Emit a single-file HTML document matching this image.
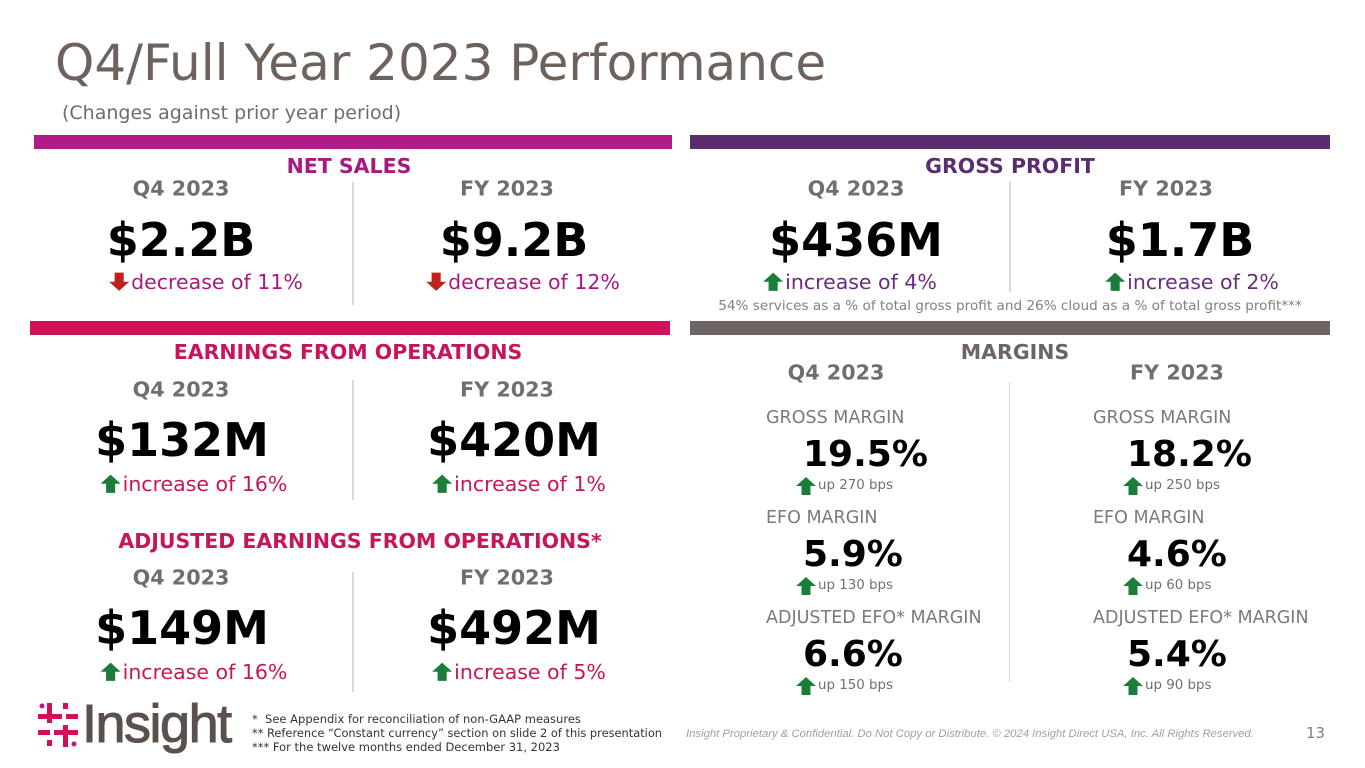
<!DOCTYPE html>
<html><head><meta charset="utf-8">
<style>
*{margin:0;padding:0;box-sizing:border-box}
body{width:1365px;height:768px;background:#fff;position:relative;overflow:hidden;font-family:"DejaVu Sans","Liberation Sans",sans-serif}
.a{position:absolute;white-space:nowrap;line-height:1}
.c{position:absolute;white-space:nowrap;line-height:1;transform:translate(-50%,-50%)}
.bar{position:absolute;height:14px}
.h{font-weight:bold;font-size:20.5px}
.p{font-weight:bold;font-size:20.7px;color:#6f6f6f}
.v{font-weight:bold;font-size:46px;color:#000}
.ch{font-size:20.5px;display:flex;align-items:center}
.ch svg{margin-right:2px}
.div{position:absolute;width:2px;background:#d9d9d9}
.ml{font-size:17.5px;color:#7a7a7a}
.mv{font-weight:bold;font-size:36px;color:#000}
.mu{font-size:13.4px;color:#707070;display:flex;align-items:center}
.mu svg{margin-right:2px}
</style></head><body>
<div class="a" style="left:55px;top:38px;font-size:50px;color:#6d625c">Q4/Full Year 2023 Performance</div>
<div class="a" style="left:62px;top:104px;font-size:19px;color:#6d6d6d">(Changes against prior year period)</div>

<div class="bar" style="left:34px;top:135px;width:638px;background:#b01c87"></div>
<div class="bar" style="left:690px;top:135px;width:640px;background:#5c2d6e"></div>
<div class="bar" style="left:30px;top:321px;width:640px;background:#d1105a"></div>
<div class="bar" style="left:690px;top:321px;width:640px;background:#6e6464"></div>

<!-- NET SALES -->
<div class="c h" style="left:349px;top:166px;color:#a8187f">NET SALES</div>
<div class="c p" style="left:181px;top:189px">Q4 2023</div>
<div class="c p" style="left:507px;top:189px">FY 2023</div>
<div class="div" style="left:352px;top:182px;height:123px"></div>
<div class="c v" style="left:181px;top:240px">$2.2B</div>
<div class="c v" style="left:514px;top:240px">$9.2B</div>
<div class="c ch" style="left:206px;top:282px;color:#a8187f"><svg width="20" height="20" viewBox="0 0 22 20"><polygon points="6,0 16,0 16,10 22,10 11,20 0,10 6,10" fill="#c0201e"/></svg>decrease of 11%</div>
<div class="c ch" style="left:523px;top:282px;color:#a8187f"><svg width="20" height="20" viewBox="0 0 22 20"><polygon points="6,0 16,0 16,10 22,10 11,20 0,10 6,10" fill="#c0201e"/></svg>decrease of 12%</div>

<!-- GROSS PROFIT -->
<div class="c h" style="left:1010px;top:166px;color:#5c2d6e">GROSS PROFIT</div>
<div class="c p" style="left:856px;top:189px">Q4 2023</div>
<div class="c p" style="left:1166px;top:189px">FY 2023</div>
<div class="div" style="left:1009px;top:182px;height:110px"></div>
<div class="c v" style="left:856px;top:240px">$436M</div>
<div class="c v" style="left:1180px;top:240px">$1.7B</div>
<div class="c ch" style="left:850px;top:282px;color:#6b2c7e"><svg width="20" height="20" viewBox="0 0 22 20"><polygon points="11,0 22,10 16,10 16,20 6,20 6,10 0,10" fill="#1a7e3a"/></svg>increase of 4%</div>
<div class="c ch" style="left:1192px;top:282px;color:#6b2c7e"><svg width="20" height="20" viewBox="0 0 22 20"><polygon points="11,0 22,10 16,10 16,20 6,20 6,10 0,10" fill="#1a7e3a"/></svg>increase of 2%</div>
<div class="c" style="left:1010px;top:307px;font-size:13.6px;color:#808080">54% services as a % of total gross profit and 26% cloud as a % of total gross profit***</div>

<!-- EARNINGS -->
<div class="c h" style="left:348px;top:352px;color:#c8155a">EARNINGS FROM OPERATIONS</div>
<div class="c p" style="left:181px;top:390px">Q4 2023</div>
<div class="c p" style="left:507px;top:390px">FY 2023</div>
<div class="div" style="left:352px;top:380px;height:120px"></div>
<div class="c v" style="left:182px;top:440px">$132M</div>
<div class="c v" style="left:514px;top:440px">$420M</div>
<div class="c ch" style="left:194px;top:484px;color:#c8155a"><svg width="20" height="20" viewBox="0 0 22 20"><polygon points="11,0 22,10 16,10 16,20 6,20 6,10 0,10" fill="#1a7e3a"/></svg>increase of 16%</div>
<div class="c ch" style="left:519px;top:484px;color:#c8155a"><svg width="20" height="20" viewBox="0 0 22 20"><polygon points="11,0 22,10 16,10 16,20 6,20 6,10 0,10" fill="#1a7e3a"/></svg>increase of 1%</div>

<div class="c h" style="left:360px;top:541px;color:#c8155a">ADJUSTED EARNINGS FROM OPERATIONS*</div>
<div class="c p" style="left:181px;top:578px">Q4 2023</div>
<div class="c p" style="left:507px;top:578px">FY 2023</div>
<div class="div" style="left:352px;top:572px;height:120px"></div>
<div class="c v" style="left:182px;top:628px">$149M</div>
<div class="c v" style="left:514px;top:628px">$492M</div>
<div class="c ch" style="left:194px;top:672px;color:#c8155a"><svg width="20" height="20" viewBox="0 0 22 20"><polygon points="11,0 22,10 16,10 16,20 6,20 6,10 0,10" fill="#1a7e3a"/></svg>increase of 16%</div>
<div class="c ch" style="left:519px;top:672px;color:#c8155a"><svg width="20" height="20" viewBox="0 0 22 20"><polygon points="11,0 22,10 16,10 16,20 6,20 6,10 0,10" fill="#1a7e3a"/></svg>increase of 5%</div>

<!-- MARGINS -->
<div class="c h" style="left:1015px;top:352px;color:#6e6464">MARGINS</div>
<div class="c p" style="left:836px;top:373px">Q4 2023</div>
<div class="c p" style="left:1177px;top:373px">FY 2023</div>
<div class="div" style="left:1009px;top:382px;height:300px;width:1px"></div>

<div class="a ml" style="left:766px;top:410px">GROSS MARGIN</div>
<div class="a mv" style="left:803px;top:437px">19.5%</div>
<div class="a mu" style="left:796px;top:477px"><svg width="20" height="18" viewBox="0 0 22 20"><polygon points="11,0 22,10 16,10 16,20 6,20 6,10 0,10" fill="#1a7e3a"/></svg>up 270 bps</div>
<div class="a ml" style="left:766px;top:510px">EFO MARGIN</div>
<div class="a mv" style="left:803px;top:537px">5.9%</div>
<div class="a mu" style="left:796px;top:577px"><svg width="20" height="18" viewBox="0 0 22 20"><polygon points="11,0 22,10 16,10 16,20 6,20 6,10 0,10" fill="#1a7e3a"/></svg>up 130 bps</div>
<div class="a ml" style="left:766px;top:610px">ADJUSTED EFO* MARGIN</div>
<div class="a mv" style="left:803px;top:637px">6.6%</div>
<div class="a mu" style="left:796px;top:677px"><svg width="20" height="18" viewBox="0 0 22 20"><polygon points="11,0 22,10 16,10 16,20 6,20 6,10 0,10" fill="#1a7e3a"/></svg>up 150 bps</div>

<div class="a ml" style="left:1093px;top:410px">GROSS MARGIN</div>
<div class="a mv" style="left:1127px;top:437px">18.2%</div>
<div class="a mu" style="left:1123px;top:477px"><svg width="20" height="18" viewBox="0 0 22 20"><polygon points="11,0 22,10 16,10 16,20 6,20 6,10 0,10" fill="#1a7e3a"/></svg>up 250 bps</div>
<div class="a ml" style="left:1093px;top:510px">EFO MARGIN</div>
<div class="a mv" style="left:1127px;top:537px">4.6%</div>
<div class="a mu" style="left:1123px;top:577px"><svg width="20" height="18" viewBox="0 0 22 20"><polygon points="11,0 22,10 16,10 16,20 6,20 6,10 0,10" fill="#1a7e3a"/></svg>up 60 bps</div>
<div class="a ml" style="left:1093px;top:610px">ADJUSTED EFO* MARGIN</div>
<div class="a mv" style="left:1127px;top:637px">5.4%</div>
<div class="a mu" style="left:1123px;top:677px"><svg width="20" height="18" viewBox="0 0 22 20"><polygon points="11,0 22,10 16,10 16,20 6,20 6,10 0,10" fill="#1a7e3a"/></svg>up 90 bps</div>

<!-- FOOTER -->
<svg class="a" style="left:38px;top:703px" width="40" height="44" viewBox="0 0 40 44">
<rect x="9" y="0" width="5" height="20" fill="#d1105a"/><rect x="25" y="0" width="5" height="6" fill="#d1105a"/>
<rect x="0" y="11" width="24" height="5" fill="#d1105a"/><rect x="28" y="11" width="12" height="5" fill="#d1105a"/>
<rect x="0" y="27" width="12" height="5" fill="#d1105a"/><rect x="16" y="27" width="24" height="5" fill="#d1105a"/>
<rect x="25" y="22" width="5" height="22" fill="#d1105a"/><rect x="9" y="37" width="5" height="6" fill="#d1105a"/>
<circle cx="4" cy="3" r="2.5" fill="#b01c87"/><circle cx="36" cy="41" r="2.5" fill="#b01c87"/>
</svg>
<div class="a" style="left:82px;top:697px;font-family:'Liberation Sans',sans-serif;font-size:54px;color:#5a514c;letter-spacing:-1.5px;-webkit-text-stroke:1px #5a514c">Insight</div>
<div class="a" style="left:252px;top:714px;font-size:11.5px;color:#333">*&nbsp; See Appendix for reconciliation of non-GAAP measures</div>
<div class="a" style="left:252px;top:728px;font-size:11.4px;color:#333">** Reference “Constant currency” section on slide 2 of this presentation</div>
<div class="a" style="left:252px;top:742px;font-size:11.5px;color:#333">*** For the twelve months ended December 31, 2023</div>
<div class="a" style="left:686px;top:729px;font-family:'Liberation Sans',sans-serif;font-style:italic;font-size:11.3px;color:#a0a0a0">Insight Proprietary &amp; Confidential. Do Not Copy or Distribute. © 2024 Insight Direct USA, Inc. All Rights Reserved.</div>
<div class="a" style="left:1306px;top:726px;font-size:15px;color:#808080">13</div>
</body></html>
